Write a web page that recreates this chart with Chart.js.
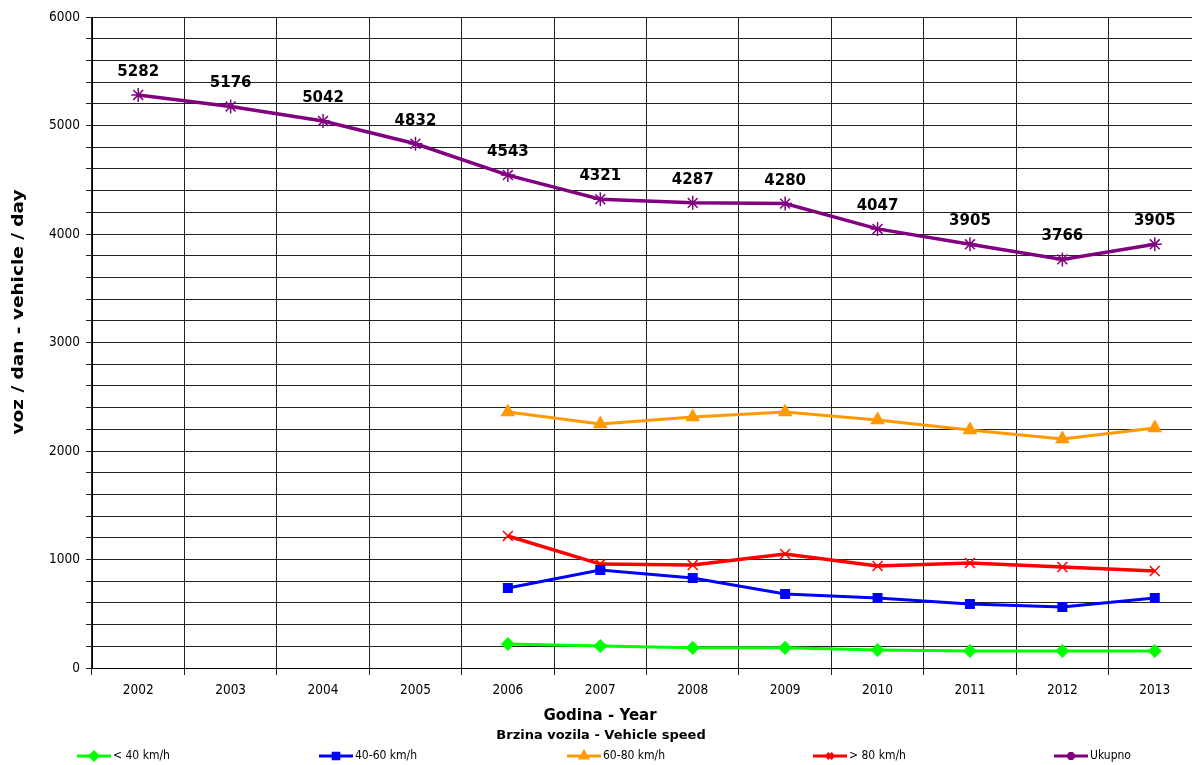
<!DOCTYPE html>
<html>
<head>
<meta charset="utf-8">
<script src="https://cdn.jsdelivr.net/npm/chart.js@4/dist/chart.umd.min.js"></script>
<style>
  html, body { margin: 0; padding: 0; background: #fff; overflow: hidden; }
  #wrap { width: 1192px; height: 765px; overflow: hidden; }
</style>
</head>
<body>
<div id="wrap"><canvas id="chart" width="1210" height="765"></canvas></div>
<script>
// ---------- DATA ----------
const years = ['2002', '2003', '2004', '2005', '2006', '2007', '2008', '2009', '2010', '2011', '2012', '2013'];
const below40 = [null, null, null, null, 221, 203, 186, 186, 166, 157, 157, 157];
const from40to60 = [null, null, null, null, 737, 903, 829, 682, 645, 590, 562, 645];
const from60to80 = [null, null, null, null, 2359, 2249, 2313, 2359, 2286, 2194, 2111, 2212];
const above80 = [null, null, null, null, 1217, 958, 949, 1051, 940, 968, 931, 894];
const total = [5282, 5176, 5042, 4832, 4543, 4321, 4287, 4280, 4047, 3905, 3766, 3905];
const seriesNames = ['< 40 km/h', '40-60 km/h', '60-80 km/h', '> 80 km/h', 'Ukupno'];

const FONT = '"DejaVu Sans", Verdana, sans-serif';
const FONT_COND = '"DejaVu Sans Condensed", "DejaVu Sans", sans-serif';

// ---------- EXTRA DRAWING (labels, titles, legend) ----------
const extras = {
  id: 'extras',
  afterDatasetsDraw(chart) {
    const ctx = chart.ctx;
    ctx.save();

    // value labels over "Ukupno"
    const meta = chart.getDatasetMeta(4);
    ctx.fillStyle = '#000';
    ctx.font = 'bold 15px ' + FONT;
    ctx.textAlign = 'center';
    ctx.textBaseline = 'middle';
    meta.data.forEach((pt, i) => {
      ctx.fillText(String(total[i]), pt.x, pt.y - 23);
    });

    // axis titles
    ctx.font = 'bold 15px ' + FONT;
    ctx.fillText('Godina - Year', 600, 716);
    ctx.font = 'bold 13px ' + FONT;
    ctx.fillText('Brzina vozila - Vehicle speed', 601, 736);

    // y title
    ctx.save();
    ctx.translate(19, 312);
    ctx.rotate(-Math.PI / 2);
    ctx.font = 'bold 15px ' + FONT;
    const w = ctx.measureText('voz / dan - vehicle / day').width;
    ctx.scale(245 / w, 1);
    ctx.fillText('voz / dan - vehicle / day', 0, 0);
    ctx.restore();

    // legend
    const startX = [77, 319, 567, 813, 1054];
    const ly = 756;
    chart.data.datasets.forEach((ds, i) => {
      const x0 = startX[i];
      ctx.strokeStyle = ds.borderColor;
      ctx.lineWidth = 3;
      ctx.beginPath();
      ctx.moveTo(x0, ly);
      ctx.lineTo(x0 + 34, ly);
      ctx.stroke();
      ctx.fillStyle = ds.pointBackgroundColor;
      ctx.strokeStyle = ds.pointBorderColor;
      Chart.helpers.drawPoint(ctx, {
        pointStyle: ds.pointStyle,
        radius: 4,
        borderWidth: 1
      }, x0 + 17, ly);
      ctx.fillStyle = '#000';
      ctx.font = '12px ' + FONT_COND;
      ctx.textAlign = 'left';
      ctx.fillText(seriesNames[i], x0 + 36, ly);
    });

    ctx.restore();
  }
};

function makeSet(label, data, color, style, radius, width) {
  return {
    label: label,
    data: data,
    borderColor: color,
    backgroundColor: color,
    pointBackgroundColor: color,
    pointBorderColor: color,
    pointStyle: style,
    pointRadius: radius,
    pointBorderWidth: 1.5,
    borderWidth: width,
    tension: 0,
    spanGaps: false
  };
}

new Chart(document.getElementById('chart'), {
  type: 'line',
  data: {
    labels: years,
    datasets: [
      makeSet(seriesNames[0], below40, '#00ff00', 'rectRot', 6, 3),
      makeSet(seriesNames[1], from40to60, '#0000ff', 'rect', 6, 3),
      makeSet(seriesNames[2], from60to80, '#ff9900', 'triangle', 7, 3),
      makeSet(seriesNames[3], above80, '#ff0000', 'crossRot', 7, 3.5),
      makeSet(seriesNames[4], total, '#800080', 'star', 7, 3.5)
    ]
  },
  options: {
    responsive: false,
    animation: false,
    layout: { padding: { top: 17, right: 9, left: 0, bottom: 0 } },
    plugins: {
      legend: { display: false },
      tooltip: { enabled: false }
    },
    scales: {
      x: {
        offset: true,
        grid: { offset: true, color: '#222', lineWidth: 1, tickLength: 7 },
        border: { color: '#000', width: 1 },
        ticks: { color: '#000', font: { family: FONT_COND, size: 13.5 }, padding: 7, maxRotation: 0 },
        afterFit: s => { s.height = 97; }
      },
      y: {
        min: 0,
        max: 6000,
        grid: { color: '#222', lineWidth: 1, tickLength: 6 },
        border: { color: '#000', width: 1 },
        ticks: {
          stepSize: 200,
          autoSkip: false,
          color: '#000',
          font: { family: FONT_COND, size: 13.5 },
          padding: 6,
          callback: v => (v % 1000 === 0 ? v : '')
        },
        afterFit: s => { s.width = 92; }
      }
    }
  },
  plugins: [extras]
});
</script>
</body>
</html>
